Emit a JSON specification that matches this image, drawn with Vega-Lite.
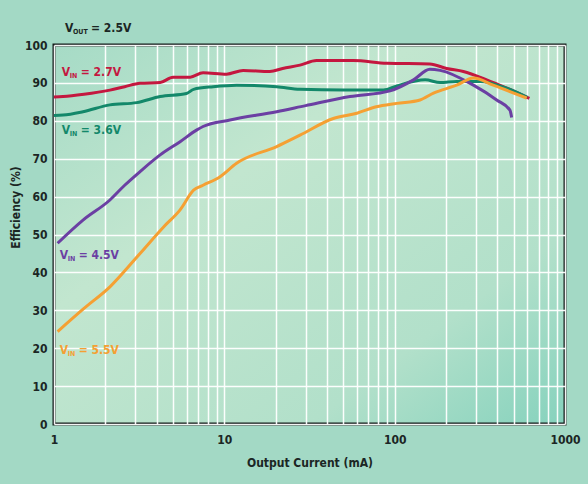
{
  "$schema": "https://vega.github.io/schema/vega-lite/v6.json",
  "width": 511,
  "height": 379,
  "autosize": {"type": "none"},
  "padding": {"left": 54, "top": 45, "right": 23, "bottom": 60},
  "background": "#a3d9c5",
  "config": {
    "view": {
      "stroke": "#121a18",
      "strokeWidth": 3,
      "fill": {
        "gradient": "linear",
        "x1": 0, "y1": 0, "x2": 1, "y2": 1,
        "stops": [
          {"offset": 0, "color": "#a6dbc6"},
          {"offset": 0.35, "color": "#c2e6cf"},
          {"offset": 0.75, "color": "#b2e0ca"},
          {"offset": 1, "color": "#86d2bd"}
        ]
      }
    },
    "font": "DejaVu Sans Condensed, Liberation Sans, sans-serif",
    "axis": {
      "labelFont": "DejaVu Sans Condensed, Liberation Sans, sans-serif",
      "titleFont": "DejaVu Sans Condensed, Liberation Sans, sans-serif",
      "labelFontWeight": "bold",
      "titleFontWeight": "bold",
      "labelColor": "#1b2624",
      "titleColor": "#1b2624",
      "labelFontSize": 12,
      "titleFontSize": 12,
      "domain": false,
      "ticks": false,
      "gridColor": "#ffffff",
      "gridOpacity": 0.95,
      "gridWidth": 1.5
    }
  },
  "datasets": {
    "curves": [
      {"s": "2.7V", "x": 1.0, "y": 86.3}, {"s": "2.7V", "x": 1.13, "y": 86.4}, {"s": "2.7V", "x": 1.5, "y": 87.0},
      {"s": "2.7V", "x": 2.13, "y": 88.1}, {"s": "2.7V", "x": 2.6, "y": 89.0}, {"s": "2.7V", "x": 3.2, "y": 89.9},
      {"s": "2.7V", "x": 4.2, "y": 90.1}, {"s": "2.7V", "x": 5.0, "y": 91.5}, {"s": "2.7V", "x": 6.3, "y": 91.5},
      {"s": "2.7V", "x": 7.5, "y": 92.7}, {"s": "2.7V", "x": 10.3, "y": 92.3}, {"s": "2.7V", "x": 12.9, "y": 93.3},
      {"s": "2.7V", "x": 18.5, "y": 93.0}, {"s": "2.7V", "x": 22, "y": 93.8}, {"s": "2.7V", "x": 27.8, "y": 94.7},
      {"s": "2.7V", "x": 34.8, "y": 95.9}, {"s": "2.7V", "x": 57, "y": 95.9}, {"s": "2.7V", "x": 90, "y": 95.2},
      {"s": "2.7V", "x": 161, "y": 95.0}, {"s": "2.7V", "x": 202, "y": 93.8}, {"s": "2.7V", "x": 253, "y": 93.0},
      {"s": "2.7V", "x": 347, "y": 90.8}, {"s": "2.7V", "x": 455, "y": 88.6}, {"s": "2.7V", "x": 618, "y": 85.9},

      {"s": "3.6V", "x": 1.0, "y": 81.4}, {"s": "3.6V", "x": 1.13, "y": 81.5}, {"s": "3.6V", "x": 1.48, "y": 82.4},
      {"s": "3.6V", "x": 2.13, "y": 84.2}, {"s": "3.6V", "x": 3.06, "y": 84.8}, {"s": "3.6V", "x": 4.2, "y": 86.4},
      {"s": "3.6V", "x": 6.0, "y": 87.2}, {"s": "3.6V", "x": 6.6, "y": 88.3}, {"s": "3.6V", "x": 8.6, "y": 89.0},
      {"s": "3.6V", "x": 11.8, "y": 89.4}, {"s": "3.6V", "x": 20.3, "y": 89.0}, {"s": "3.6V", "x": 27.8, "y": 88.3},
      {"s": "3.6V", "x": 50, "y": 88.1}, {"s": "3.6V", "x": 86, "y": 88.1}, {"s": "3.6V", "x": 103, "y": 89.2},
      {"s": "3.6V", "x": 151, "y": 90.8}, {"s": "3.6V", "x": 185, "y": 90.1}, {"s": "3.6V", "x": 231, "y": 90.4},
      {"s": "3.6V", "x": 317, "y": 90.4}, {"s": "3.6V", "x": 455, "y": 88.6}, {"s": "3.6V", "x": 600, "y": 86.2},

      {"s": "4.5V", "x": 1.05, "y": 47.7}, {"s": "4.5V", "x": 1.48, "y": 53.8}, {"s": "4.5V", "x": 2.13, "y": 59.1},
      {"s": "4.5V", "x": 2.6, "y": 63.0}, {"s": "4.5V", "x": 3.2, "y": 66.6}, {"s": "4.5V", "x": 4.2, "y": 71.0},
      {"s": "4.5V", "x": 5.5, "y": 74.5}, {"s": "4.5V", "x": 6.9, "y": 77.6}, {"s": "4.5V", "x": 7.5, "y": 78.5},
      {"s": "4.5V", "x": 10.8, "y": 80.2}, {"s": "4.5V", "x": 20.3, "y": 82.4}, {"s": "4.5V", "x": 30, "y": 84.0},
      {"s": "4.5V", "x": 54.7, "y": 86.4}, {"s": "4.5V", "x": 94, "y": 87.9}, {"s": "4.5V", "x": 129, "y": 90.8},
      {"s": "4.5V", "x": 161, "y": 93.6}, {"s": "4.5V", "x": 185, "y": 93.3}, {"s": "4.5V", "x": 290, "y": 89.4},
      {"s": "4.5V", "x": 397, "y": 85.5}, {"s": "4.5V", "x": 475, "y": 82.8}, {"s": "4.5V", "x": 486, "y": 80.9},

      {"s": "5.5V", "x": 1.05, "y": 24.4}, {"s": "5.5V", "x": 1.5, "y": 30.5}, {"s": "5.5V", "x": 2.13, "y": 36.2},
      {"s": "5.5V", "x": 3.2, "y": 45.0}, {"s": "5.5V", "x": 4.4, "y": 52.0}, {"s": "5.5V", "x": 5.5, "y": 56.5},
      {"s": "5.5V", "x": 6.6, "y": 61.7}, {"s": "5.5V", "x": 7.5, "y": 63.0}, {"s": "5.5V", "x": 9.4, "y": 65.2},
      {"s": "5.5V", "x": 11.8, "y": 68.8}, {"s": "5.5V", "x": 20.3, "y": 73.2}, {"s": "5.5V", "x": 27.8, "y": 76.2},
      {"s": "5.5V", "x": 43.6, "y": 80.6}, {"s": "5.5V", "x": 60, "y": 82.0}, {"s": "5.5V", "x": 78, "y": 83.7},
      {"s": "5.5V", "x": 103, "y": 84.6}, {"s": "5.5V", "x": 141, "y": 85.5}, {"s": "5.5V", "x": 169, "y": 87.3},
      {"s": "5.5V", "x": 231, "y": 89.4}, {"s": "5.5V", "x": 290, "y": 91.3}, {"s": "5.5V", "x": 379, "y": 89.4},
      {"s": "5.5V", "x": 596, "y": 86.0}
    ],
    "labels": [
      {"s": "2.7V", "x": 1.11, "y": 92.9, "main": "V", "sub": "IN", "rest": "= 2.7V"},
      {"s": "3.6V", "x": 1.11, "y": 77.6, "main": "V", "sub": "IN", "rest": "= 3.6V"},
      {"s": "4.5V", "x": 1.08, "y": 44.6, "main": "V", "sub": "IN", "rest": "= 4.5V"},
      {"s": "5.5V", "x": 1.08, "y": 19.5, "main": "V", "sub": "IN", "rest": "= 5.5V"}
    ],
    "vout": [
      {"x": 1.16, "y": 104.5, "main": "V", "sub": "OUT", "rest": "= 2.5V"}
    ]
  },
  "encoding": {
    "x": {
      "field": "x", "type": "quantitative",
      "scale": {"type": "log", "domain": [1, 1000], "nice": false},
      "axis": {
        "title": "Output Current (mA)",
        "values": [1,2,3,4,5,6,7,8,9,10,20,30,40,50,60,70,80,90,100,200,300,400,500,600,700,800,900,1000],
        "labelExpr": "(datum.value == 1 || datum.value == 10 || datum.value == 100 || datum.value == 1000) ? format(datum.value, 'd') : ''",
        "labelOverlap": false,
        "labelFlush": false,
        "labelBound": false,
        "labelPadding": 10,
        "titlePadding": 12
      }
    },
    "y": {
      "field": "y", "type": "quantitative",
      "scale": {"domain": [0, 100], "nice": false},
      "axis": {
        "title": "Efficiency (%)",
        "values": [0,10,20,30,40,50,60,70,80,90,100],
        "labelPadding": 7,
        "titleX": -39,
        "titleY": 162,
        "titleAngle": -90,
        "titleAlign": "center",
        "titleBaseline": "middle"
      }
    },
    "color": {
      "field": "s", "type": "nominal",
      "scale": {"domain": ["2.7V", "3.6V", "4.5V", "5.5V"], "range": ["#c4173f", "#13886a", "#6b3fa3", "#f5a033"]},
      "legend": null
    }
  },
  "layer": [
    {
      "data": {"name": "curves"},
      "mark": {"type": "line", "strokeWidth": 3, "interpolate": "monotone", "clip": true}
    },
    {
      "data": {"name": "labels"},
      "mark": {"type": "text", "align": "left", "baseline": "middle", "fontSize": 12, "fontWeight": "bold"},
      "encoding": {"text": {"field": "main"}}
    },
    {
      "data": {"name": "labels"},
      "mark": {"type": "text", "align": "left", "baseline": "middle", "fontSize": 7, "fontWeight": "bold", "dx": 8, "dy": 4},
      "encoding": {"text": {"field": "sub"}}
    },
    {
      "data": {"name": "labels"},
      "mark": {"type": "text", "align": "left", "baseline": "middle", "fontSize": 12, "fontWeight": "bold", "dx": 19},
      "encoding": {"text": {"field": "rest"}}
    },
    {
      "data": {"name": "vout"},
      "mark": {"type": "text", "align": "left", "baseline": "middle", "fontSize": 12, "fontWeight": "bold"},
      "encoding": {"text": {"field": "main"}, "color": {"value": "#1b2624"}}
    },
    {
      "data": {"name": "vout"},
      "mark": {"type": "text", "align": "left", "baseline": "middle", "fontSize": 7, "fontWeight": "bold", "dx": 8, "dy": 4},
      "encoding": {"text": {"field": "sub"}, "color": {"value": "#1b2624"}}
    },
    {
      "data": {"name": "vout"},
      "mark": {"type": "text", "align": "left", "baseline": "middle", "fontSize": 12, "fontWeight": "bold", "dx": 26},
      "encoding": {"text": {"field": "rest"}, "color": {"value": "#1b2624"}}
    }
  ]
}
